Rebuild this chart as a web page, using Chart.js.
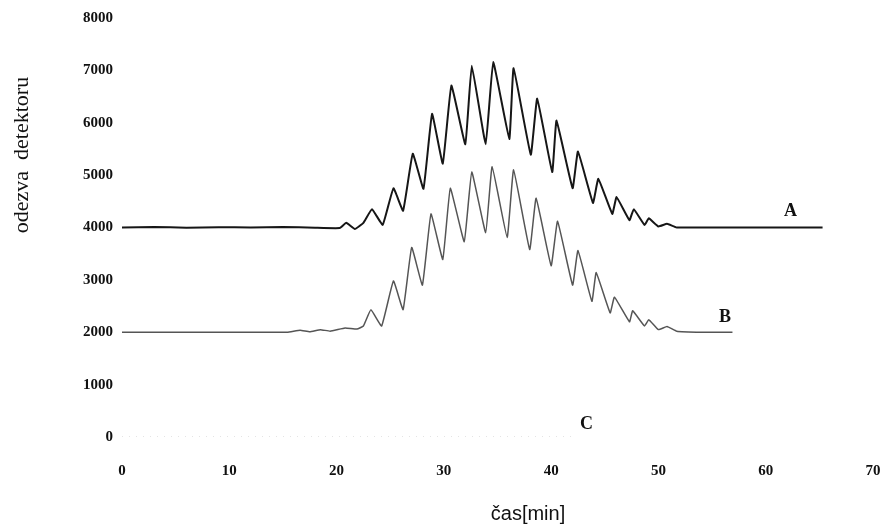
<!DOCTYPE html>
<html>
<head>
<meta charset="utf-8">
<script src="https://cdn.jsdelivr.net/npm/chart.js@4.4.1/dist/chart.umd.min.js"></script>
<style>
  html, body { margin: 0; padding: 0; background: #ffffff; }
  #wrap { width: 883px; height: 531px; position: relative; }
</style>
</head>
<body>
<div id="wrap"><canvas id="c" width="883" height="531"></canvas></div>
<script>
// ---- data ----
const xTickValues = [0, 10, 20, 30, 40, 50, 60, 70];
const yTickValues = [0, 1000, 2000, 3000, 4000, 5000, 6000, 7000, 8000];

const timeA = [0, 3, 6, 9, 12, 15, 18, 20.3, 20.9, 21.7, 22.5, 23.3, 24.3, 25.3, 26.2, 27.1, 28.1, 28.9, 29.9, 30.7, 32.0, 32.6, 33.9, 34.6, 36.1, 36.5, 38.1, 38.7, 40.1, 40.5, 42.0, 42.5, 43.9, 44.4, 45.7, 46.1, 47.3, 47.7, 48.7, 49.1, 50.0, 50.8, 51.7, 55, 60, 65.3];
const valuesA = [4000, 4010, 3995, 4005, 4000, 4010, 3995, 3990, 4090, 3970, 4090, 4350, 4050, 4750, 4320, 5410, 4740, 6170, 5220, 6710, 5590, 7090, 5590, 7160, 5690, 7040, 5390, 6460, 5060, 6040, 4750, 5450, 4470, 4930, 4260, 4580, 4140, 4350, 4050, 4175, 4020, 4070, 4000, 4000, 4000, 4000];

const timeB = [0, 5, 10, 15.4, 16.6, 17.5, 18.5, 19.4, 20.8, 21.9, 22.5, 23.2, 24.2, 25.3, 26.2, 27.0, 28.0, 28.8, 29.9, 30.6, 31.9, 32.6, 33.9, 34.5, 35.9, 36.5, 38.0, 38.6, 40.0, 40.6, 42.0, 42.5, 43.8, 44.2, 45.5, 45.9, 47.3, 47.6, 48.7, 49.1, 50.0, 50.8, 51.7, 54, 56.9];
const valuesB = [2000, 2000, 2000, 2000, 2040, 2010, 2050, 2020, 2080, 2060, 2120, 2430, 2120, 2980, 2430, 3620, 2900, 4260, 3390, 4750, 3730, 5060, 3900, 5160, 3810, 5100, 3580, 4560, 3270, 4120, 2900, 3560, 2590, 3140, 2370, 2670, 2200, 2410, 2120, 2240, 2050, 2110, 2020, 2000, 2000];

const timeC = [0, 42];
const valuesC = [0, 0];

const seriesNames = ['A', 'B', 'C'];
const nameTimes = [62.3, 56.2, 43.3];
const nameValues = [4300, 2290, 245];

const xTitle = 'čas[min]';
const yTitle = 'odezva  detektoru';

function pts(t, v) { return t.map((x, i) => ({ x: x, y: v[i] })); }

const labelPlugin = {
  id: 'seriesNames',
  afterDatasetsDraw(chart) {
    const ctx = chart.ctx;
    const xs = chart.scales.x, ys = chart.scales.y;
    ctx.save();
    ctx.fillStyle = '#111';
    ctx.font = 'bold 18px "Liberation Serif", "DejaVu Serif", serif';
    ctx.textAlign = 'center';
    ctx.textBaseline = 'middle';
    seriesNames.forEach((n, i) => {
      ctx.fillText(n, xs.getPixelForValue(nameTimes[i]), ys.getPixelForValue(nameValues[i]));
    });
    ctx.restore();
  }
};

const titlePlugin = {
  id: 'axisTitles',
  afterDraw(chart) {
    const ctx = chart.ctx;
    ctx.save();
    ctx.fillStyle = '#111';
    ctx.textAlign = 'center';
    ctx.textBaseline = 'middle';
    ctx.font = '20px "Liberation Sans", Arial, sans-serif';
    ctx.fillText(xTitle, 528, 514);
    ctx.translate(22, 155);
    ctx.rotate(-Math.PI / 2);
    ctx.font = '22px "Liberation Serif", "DejaVu Serif", serif';
    ctx.fillText(yTitle, 0, 0);
    ctx.restore();
  }
};

new Chart(document.getElementById('c'), {
  type: 'line',
  data: {
    datasets: [
      { label: 'A', data: pts(timeA, valuesA), borderColor: '#161616', borderWidth: 2, pointRadius: 0, tension: 0.1 },
      { label: 'B', data: pts(timeB, valuesB), borderColor: '#555555', borderWidth: 1.5, pointRadius: 0, tension: 0.1 },
      { label: 'C', data: pts(timeC, valuesC), borderColor: '#c8c8c8', borderWidth: 1, borderDash: [1, 6], pointRadius: 0 }
    ]
  },
  options: {
    responsive: false,
    animation: false,
    layout: { padding: { left: 0, right: 10, top: 18, bottom: 0 } },
    plugins: { legend: { display: false }, tooltip: { enabled: false } },
    scales: {
      x: {
        type: 'linear', min: 0, max: 70,
        grid: { display: false, drawTicks: true, tickLength: 23 }, border: { display: false },
        afterBuildTicks: (s) => { s.ticks = xTickValues.map(v => ({ value: v })); },
        afterFit: (s) => { s.height = 94; },
        ticks: { padding: 2, color: '#111', callback: (v) => String(v), font: { family: '"Liberation Serif", "DejaVu Serif", serif', size: 15, weight: 'bold' } }
      },
      y: {
        type: 'linear', min: 0, max: 8000,
        grid: { display: false, drawTicks: false }, border: { display: false },
        afterBuildTicks: (s) => { s.ticks = yTickValues.map(v => ({ value: v })); },
        afterFit: (s) => { s.width = 122; },
        ticks: { padding: 9, color: '#111', callback: (v) => String(v), font: { family: '"Liberation Serif", "DejaVu Serif", serif', size: 15, weight: 'bold' } }
      }
    }
  },
  plugins: [labelPlugin, titlePlugin]
});
</script>
</body>
</html>
